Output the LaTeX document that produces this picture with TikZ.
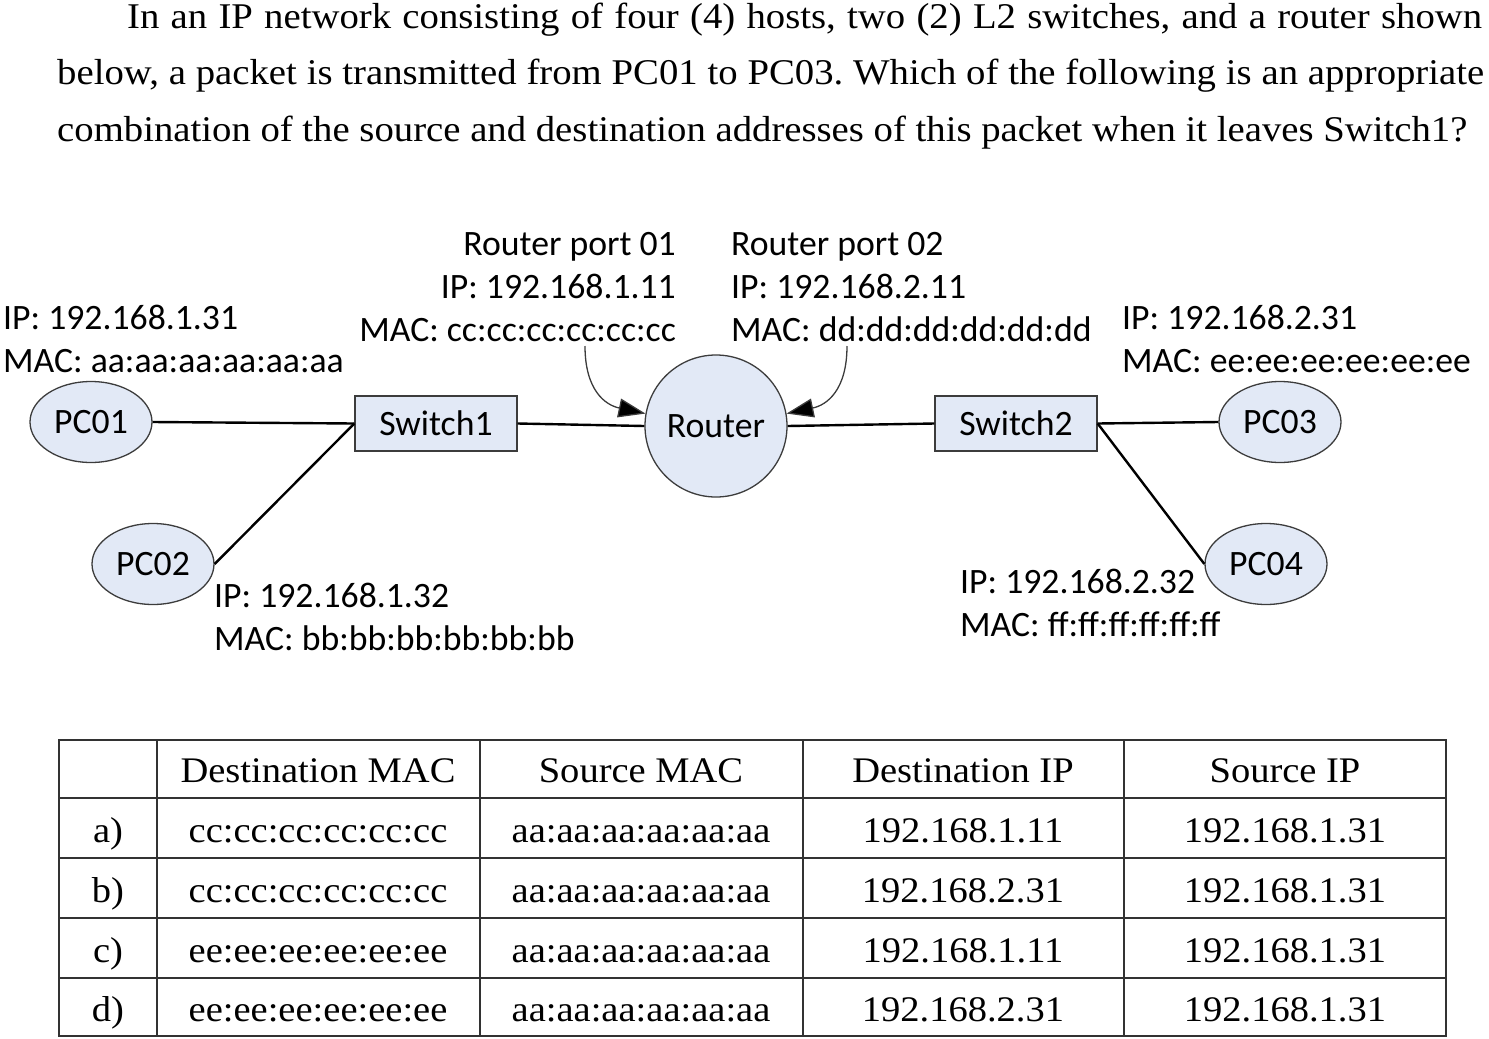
\documentclass[tikz,border=0pt]{standalone}
\usepackage{fontspec}
\setmainfont[FakeStretch=1.07]{Liberation Serif}
\newfontfamily\calfont{Carlito}
\usetikzlibrary{arrows.meta,shapes.geometric}
\definecolor{nodefill}{RGB}{226,233,246}
\definecolor{nodeline}{RGB}{60,60,60}
\definecolor{tblline}{RGB}{50,50,50}
\tikzset{
  pc/.style={ellipse,draw=nodeline,line width=1.3pt,fill=nodefill,minimum width=122pt,minimum height=81pt,inner sep=0pt,font=\calfont\fontsize{35.7}{43}\selectfont},
  sw/.style={rectangle,draw=nodeline,line width=1.3pt,fill=nodefill,minimum width=162pt,minimum height=55pt,inner sep=0pt,font=\calfont\fontsize{35.7}{43}\selectfont},
  rt/.style={circle,draw=nodeline,line width=1.3pt,fill=nodefill,minimum size=142pt,inner sep=0pt,font=\calfont\fontsize{35.7}{43}\selectfont},
  link/.style={line width=2.4pt,black},
  lbl/.style={inner sep=0pt,font=\calfont\fontsize{35.7}{43}\selectfont},
  ptr/.style={line width=1.3pt,nodeline,-{Triangle[length=27pt,width=19pt,fill=black]}},
  top/.style={inner sep=0pt,font=\fontsize{36.2}{56}\selectfont},
  cell/.style={inner sep=0pt,anchor=base,font=\fontsize{36}{43}\selectfont},
  tbl/.style={line width=1.8pt,tblline}
}
\frenchspacing
\begin{document}
\begin{tikzpicture}[x=1pt,y=-1pt]
\useasboundingbox (0,0) rectangle (1489,1039);
% question text
\node[top,anchor=base west] (q1) at (127,28) {\makebox[1355pt][s]{In an IP network consisting of four (4) hosts, two (2) L2 switches, and a router shown}};
\node[top,anchor=base west] (q2) at (57,84) {\makebox[1427pt][s]{below, a packet is transmitted from PC01 to PC03. Which of the following is an appropriate}};
\node[top,anchor=base west] (q3) at (57,141) {combination of the source and destination addresses of this packet when it leaves Switch1?};
% network nodes
\node[pc] (P1) at (91,422) {PC01};
\node[pc] (P2) at (153,564) {PC02};
\node[sw] (S1) at (436,423.5) {Switch1};
\node[rt] (R) at (716,426) {Router};
\node[sw] (S2) at (1016,423.5) {Switch2};
\node[pc] (P3) at (1280,422) {PC03};
\node[pc] (P4) at (1266,564) {PC04};
% links
\draw[link] (P1.east) -- (S1.west);
\draw[link] (P2.east) -- (S1.west);
\draw[link] (S1.east) -- (R.west);
\draw[link] (R.east) -- (S2.west);
\draw[link] (S2.east) -- (P3.west);
\draw[link] (S2.east) -- (P4.west);
% labels
\node[lbl,anchor=base west] (l1a) at (3,329) {IP: 192.168.1.31};
\node[lbl,anchor=base west] (l1b) at (3,372) {MAC: aa:aa:aa:aa:aa:aa};
\node[lbl,anchor=base west] (l2a) at (214,607) {IP: 192.168.1.32};
\node[lbl,anchor=base west] (l2b) at (214,650) {MAC: bb:bb:bb:bb:bb:bb};
\node[lbl,anchor=base west] (l3a) at (1122,329) {IP: 192.168.2.31};
\node[lbl,anchor=base west] (l3b) at (1122,372) {MAC: ee:ee:ee:ee:ee:ee};
\node[lbl,anchor=base west] (l4a) at (960,593) {IP: 192.168.2.32};
\node[lbl,anchor=base west] (l4b) at (960,636) {MAC: ff:ff:ff:ff:ff:ff};
\node[lbl,anchor=base east] (r1a) at (676,255) {Router port 01};
\node[lbl,anchor=base east] (r1b) at (676,298) {IP: 192.168.1.11};
\node[lbl,anchor=base east] (r1c) at (676,341) {MAC: cc:cc:cc:cc:cc:cc};
\node[lbl,anchor=base west] (r2a) at (731,255) {Router port 02};
\node[lbl,anchor=base west] (r2b) at (731,298) {IP: 192.168.2.11};
\node[lbl,anchor=base west] (r2c) at (731,341) {MAC: dd:dd:dd:dd:dd:dd};
% pointers
\coordinate (c1) at (585,346);
\coordinate (c2) at (847,346);
\draw[ptr] (c1) .. controls (585,390) and (605,405) .. (R.170);
\draw[ptr] (c2) .. controls (847,390) and (827,405) .. (R.10);
% table
\draw[tbl] (59,740) rectangle (1446,1036);
\foreach \yy in {798,858,918,978} \draw[tbl] (59,\yy) -- (1446,\yy);
\foreach \xx in {157,480,803,1124} \draw[tbl] (\xx,740) -- (\xx,1036);
\node[cell] (h1) at (318,782) {Destination MAC};
\node[cell] (h2) at (641,782) {Source MAC};
\node[cell] (h3) at (963,782) {Destination IP};
\node[cell] (h4) at (1285,782) {Source IP};
\node[cell] (a0) at (108,842) {a)};
\node[cell] (a1) at (318,842) {cc:cc:cc:cc:cc:cc};
\node[cell] (a2) at (641,842) {aa:aa:aa:aa:aa:aa};
\node[cell] (a3) at (963,842) {192.168.1.11};
\node[cell] (a4) at (1285,842) {192.168.1.31};
\node[cell] (b0) at (108,902) {b)};
\node[cell] (b1) at (318,902) {cc:cc:cc:cc:cc:cc};
\node[cell] (b2) at (641,902) {aa:aa:aa:aa:aa:aa};
\node[cell] (b3) at (963,902) {192.168.2.31};
\node[cell] (b4) at (1285,902) {192.168.1.31};
\node[cell] (c0) at (108,962) {c)};
\node[cell] (c1t) at (318,962) {ee:ee:ee:ee:ee:ee};
\node[cell] (c2t) at (641,962) {aa:aa:aa:aa:aa:aa};
\node[cell] (c3) at (963,962) {192.168.1.11};
\node[cell] (c4) at (1285,962) {192.168.1.31};
\node[cell] (d0) at (108,1021) {d)};
\node[cell] (d1) at (318,1021) {ee:ee:ee:ee:ee:ee};
\node[cell] (d2) at (641,1021) {aa:aa:aa:aa:aa:aa};
\node[cell] (d3) at (963,1021) {192.168.2.31};
\node[cell] (d4) at (1285,1021) {192.168.1.31};
\end{tikzpicture}
\end{document}
